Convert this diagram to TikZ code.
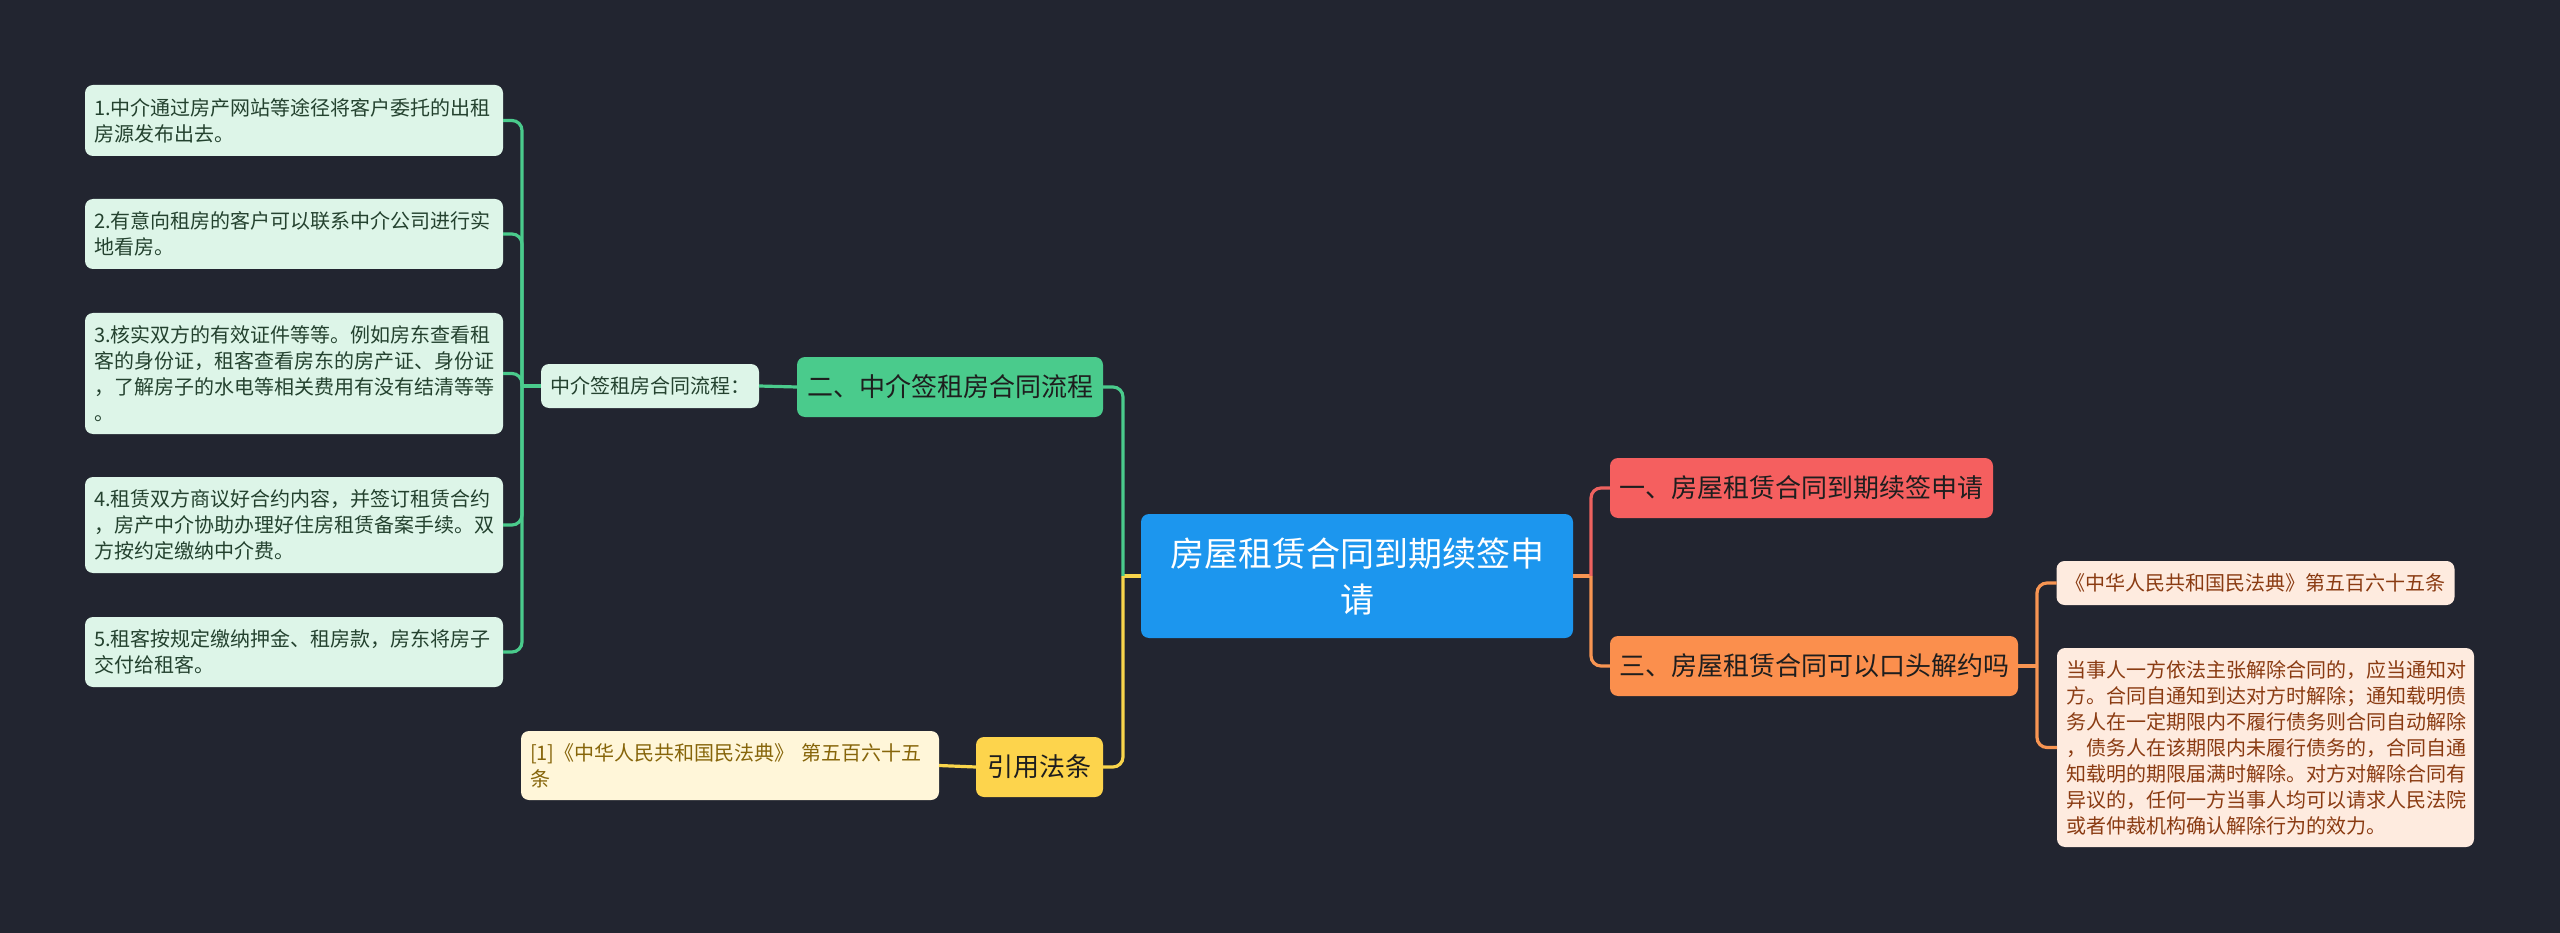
\documentclass[tikz,border=0pt]{standalone}
\usepackage{fontspec}
\setmainfont{Noto Sans CJK SC}
\usetikzlibrary{calc}
\definecolor{bgc}{HTML}{222530}
\definecolor{bluec}{HTML}{1C96EE}
\definecolor{redc}{HTML}{F55F5F}
\definecolor{orangec}{HTML}{FB8F4D}
\definecolor{greenc}{HTML}{4ACB8C}
\definecolor{yellowc}{HTML}{FDD44C}
\definecolor{mintc}{HTML}{DDF5E8}
\definecolor{peachc}{HTML}{FEEBDF}
\definecolor{lyellowc}{HTML}{FFF6D9}
\definecolor{redline}{HTML}{EE625F}
\definecolor{orangeline}{HTML}{F89552}
\definecolor{greenline}{HTML}{4ACB8C}
\definecolor{yellowline}{HTML}{F9D54B}
\definecolor{greentext}{HTML}{24422F}
\definecolor{browntext}{HTML}{8A3B12}
\definecolor{olivetext}{HTML}{86650A}
\definecolor{darktext}{HTML}{1E1E1E}
\begin{document}
\begin{tikzpicture}[x=1pt,y=-1pt,
  box/.style={rounded corners=8pt, inner sep=0pt, outer sep=0pt},
  small/.style={font=\fontsize{20}{26}\selectfont},
  big/.style={font=\fontsize{26}{32}\selectfont},
  leafg/.style={box, small, fill=mintc, text=greentext, text width=400pt, align=left, inner xsep=9pt},
  leafp/.style={box, small, fill=peachc, text=browntext, align=left, inner xsep=9pt},
  leafy/.style={box, small, fill=lyellowc, text=olivetext, text width=400pt, align=left, inner xsep=9pt},
  branch/.style={box, big, text=darktext, minimum height=60pt},
  conn/.style={line width=3.2pt, rounded corners=10pt}
]
\fill[bgc] (0,0) rectangle (2560,933);
\useasboundingbox (0,0) rectangle (2560,933);

% central
\node[box, fill=bluec, text=white, align=center, minimum width=432pt, minimum height=124pt,
  font=\fontsize{34}{46}\selectfont] (c) at (1357,576) {房屋租赁合同到期续签申\\请};

% right branches
\node[branch, fill=redc, minimum width=383pt] (b1) at (1801.5,488) {一、房屋租赁合同到期续签申请};
\node[branch, fill=orangec, minimum width=408pt] (b3) at (1814,666) {三、房屋租赁合同可以口头解约吗};

\node[leafp, minimum width=397pt, minimum height=44pt] (r1) at (2255.5,583) {《中华人民共和国民法典》第五百六十五条};
\node[leafp, text width=399pt, minimum height=199pt] (r2) at (2265.5,747.5) {当事人一方依法主张解除合同的，应当通知对\\方。合同自通知到达对方时解除；通知载明债\\务人在一定期限内不履行债务则合同自动解除\\，债务人在该期限内未履行债务的，合同自通\\知载明的期限届满时解除。对方对解除合同有\\异议的，任何一方当事人均可以请求人民法院\\或者仲裁机构确认解除行为的效力。};

% left branches
\node[branch, fill=greenc, minimum width=306pt] (g) at (950,387) {二、中介签租房合同流程};
\node[branch, fill=yellowc, minimum width=127pt] (y) at (1039.5,767) {引用法条};

\node[box, small, fill=mintc, text=greentext, minimum width=218pt, minimum height=44pt] (m) at (650,386) {中介签租房合同流程：};

\node[leafg, minimum height=71pt] (l1) at (294,120.5) {1.中介通过房产网站等途径将客户委托的出租\\房源发布出去。};
\node[leafg, minimum height=70pt] (l2) at (294,234) {2.有意向租房的客户可以联系中介公司进行实\\地看房。};
\node[leafg, minimum height=121pt] (l3) at (294,373.5) {3.核实双方的有效证件等等。例如房东查看租\\客的身份证，租客查看房东的房产证、身份证\\，了解房子的水电等相关费用有没有结清等等\\。};
\node[leafg, minimum height=96pt] (l4) at (294,525) {4.租赁双方商议好合约内容，并签订租赁合约\\，房产中介协助办理好住房租赁备案手续。双\\方按约定缴纳中介费。};
\node[leafg, minimum height=70pt] (l5) at (294,652) {5.租客按规定缴纳押金、租房款，房东将房子\\交付给租客。};

\node[leafy, minimum height=69pt] (ly) at (730,765.5) {[1]《中华人民共和国民法典》 第五百六十五\\条};

% junctions
\coordinate (jr) at ($(c.east)+(18,0)$);
\coordinate (jl) at ($(c.west)+(-18,0)$);
\coordinate (jo) at ($(b3.east)+(19,0)$);
\coordinate (jm) at ($(m.west)+(-19,0)$);

% connectors right
\draw[conn, orangeline] (c.east) -- (jr);
\draw[conn, redline] (jr) |- (b1.west);
\draw[conn, orangeline] (jr) |- (b3.west);
\draw[conn, orangeline] (b3.east) -- (jo);
\draw[conn, orangeline] (jo) |- (r1.west);
\draw[conn, orangeline] (jo) |- (r2.west);

% connectors left
\draw[conn, yellowline] (c.west) -- (jl);
\draw[conn, greenline] (jl) |- (g.east);
\draw[conn, yellowline] (jl) |- (y.east);
\draw[conn, yellowline] (y.west) -- (ly.east);
\draw[conn, greenline] (g.west) -- (m.east);
\draw[conn, greenline] (m.west) -- (jm);
\draw[conn, greenline] (jm) |- (l1.east);
\draw[conn, greenline] (jm) |- (l2.east);
\draw[conn, greenline] (jm) |- (l3.east);
\draw[conn, greenline] (jm) |- (l4.east);
\draw[conn, greenline] (jm) |- (l5.east);
\end{tikzpicture}
\end{document}
